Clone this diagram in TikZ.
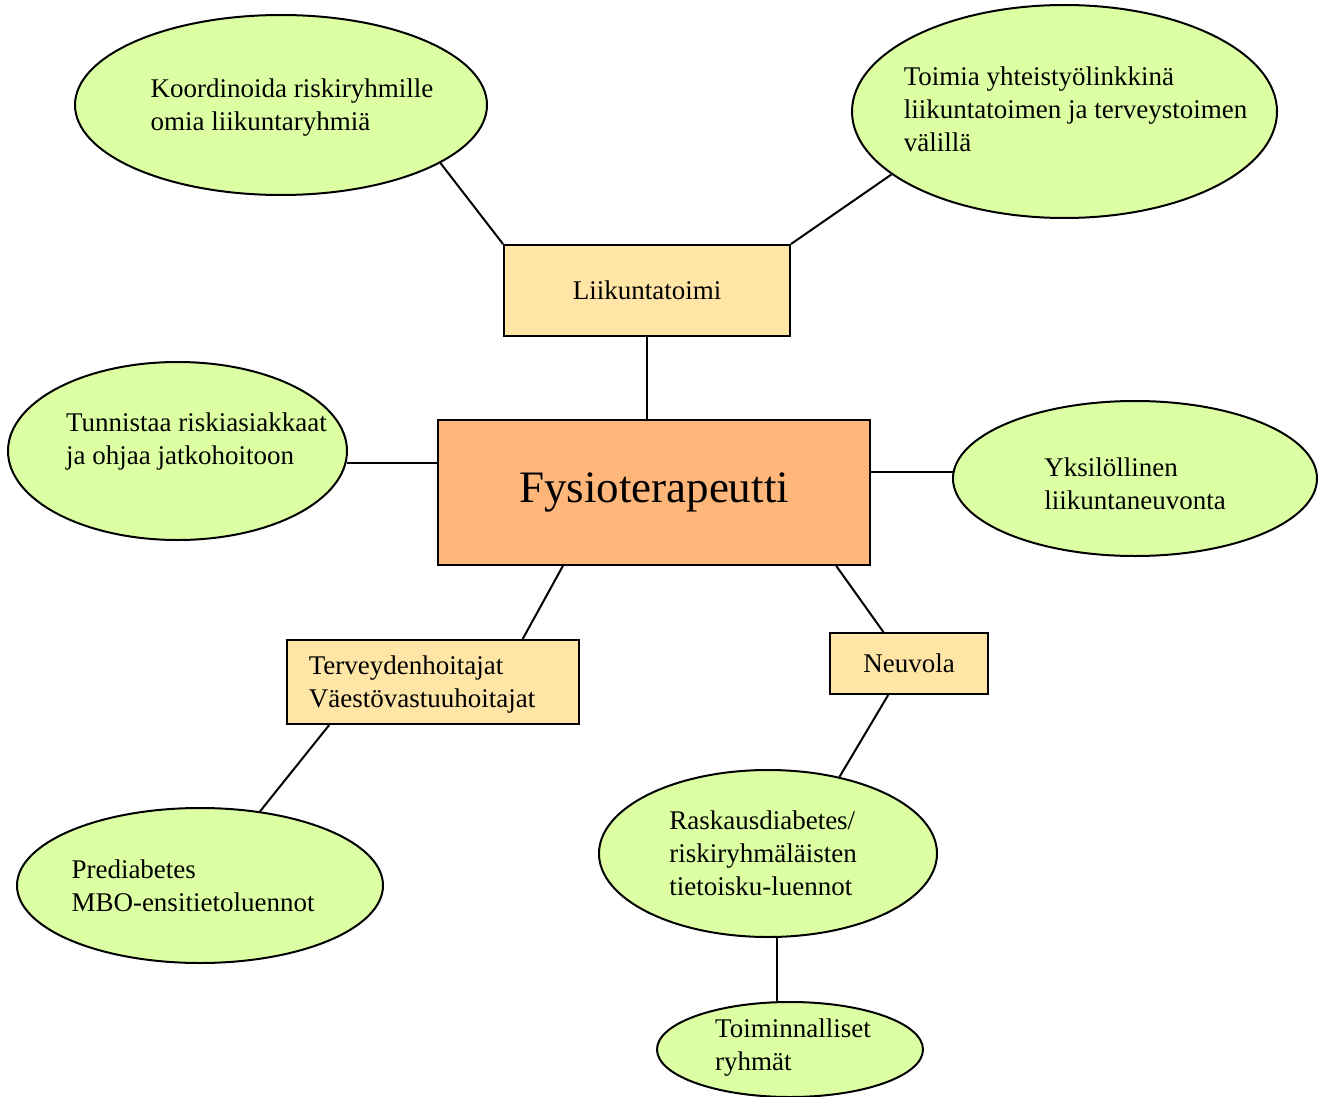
\documentclass[tikz,border=0pt]{standalone}
\usepackage{fontspec}
\setmainfont{Liberation Serif}
\usetikzlibrary{calc,shapes.geometric,positioning}
\definecolor{cLeaf}{HTML}{DDFFA3}
\definecolor{cBox}{HTML}{FFE6A6}
\definecolor{cCore}{HTML}{FFB67A}
\tikzset{
  kupla/.style={ellipse,draw=black,line width=1pt,fill=cLeaf,inner sep=0pt},
  kteksti/.style={align=left,inner sep=0pt,font=\fontsize{13.5}{16.5}\selectfont},
  laatikko/.style={rectangle,draw=black,line width=1pt,fill=cBox,inner sep=0pt,align=left,font=\fontsize{13.5}{16.5}\selectfont},
  keski/.style={rectangle,draw=black,line width=1pt,fill=cCore,inner sep=0pt,font=\fontsize{22.5}{26}\selectfont},
  edg/.style={line width=1pt,black},
}

\begin{document}
\begin{tikzpicture}[x=0.5pt,y=-0.5pt]
  \useasboundingbox (0,0) rectangle (1323,1097);
  % keskus ja alayksiköt
  \node[keski,minimum width=216pt,minimum height=72.5pt] (fysio) at (654,492.5) {Fysioterapeutti};
  \node[laatikko,minimum width=143pt,minimum height=45.5pt,align=center] (liik) at (647,290.5) {Liikuntatoimi};
  \node[laatikko,minimum width=146pt,minimum height=42pt,label={[kteksti,xshift=-5.5pt,yshift=-1.5pt]center:{Terveydenhoitajat\\Väestövastuuhoitajat}}] (terv) at (433,682) {};
  \node[laatikko,minimum width=79pt,minimum height=30.5pt,align=center] (neuv) at (909,663.5) {Neuvola};
  % kuplat
  \node[kupla,minimum width=206pt,minimum height=90pt,label={[kteksti,xshift=5.5pt,yshift=-1.5pt]center:{Koordinoida riskiryhmille\\omia liikuntaryhmiä}}] (koord) at (281,105) {};
  \node[kupla,minimum width=212.5pt,minimum height=106.5pt,label={[kteksti,xshift=5.5pt,yshift=1pt]center:{Toimia yhteistyölinkkinä\\liikuntatoimen ja terveystoimen\\välillä}}] (linkki) at (1064.5,111.5) {};
  \node[kupla,minimum width=169.5pt,minimum height=89pt,label={[kteksti,xshift=9.5pt,yshift=4.5pt]center:{Tunnistaa riskiasiakkaat\\ja ohjaa jatkohoitoon}}] (tunn) at (177.5,451) {};
  \node[kupla,minimum width=182pt,minimum height=77.5pt,label={[kteksti,yshift=-2.5pt]center:{Yksilöllinen\\liikuntaneuvonta}}] (yksi) at (1135,478.5) {};
  \node[kupla,minimum width=183pt,minimum height=77.5pt,label={[kteksti,xshift=-3.5pt]center:{Prediabetes\\MBO-ensitietoluennot}}] (predi) at (200,885.5) {};
  \node[kupla,minimum width=169pt,minimum height=83.5pt,label={[kteksti,xshift=-2.5pt]center:{Raskausdiabetes/\\riskiryhmäläisten\\tietoisku-luennot}}] (rask) at (768,853.5) {};
  \node[kupla,minimum width=133pt,minimum height=47.5pt,label={[kteksti,xshift=1.5pt,yshift=1pt]center:{Toiminnalliset\\ryhmät}}] (toim) at (790,1049.5) {};
  % yhteydet
  \draw[edg] (koord.-20) -- (liik.north west);
  \draw[edg] (linkki.-160) -- (liik.north east);
  \draw[edg] (liik.south) -- (liik.south |- fysio.north);
  \draw[edg] (tunn.-4) -- (tunn.-4 -| fysio.west);
  \draw[edg] (yksi.178) -- (yksi.178 -| fysio.east);
  \draw[edg] ($(fysio.south west)!0.29!(fysio.south east)$) -- ($(terv.north west)!0.805!(terv.north east)$);
  \draw[edg] ($(fysio.south west)!0.92!(fysio.south east)$) -- ($(neuv.north west)!0.34!(neuv.north east)$);
  \draw[edg] ($(terv.south west)!0.147!(terv.south east)$) -- (predi.51);
  \draw[edg] ($(neuv.south west)!0.37!(neuv.south east)$) -- (rask.47);
  \draw[edg] (rask.-84) -- (rask.-84 |- toim.north);
\end{tikzpicture}
\end{document}
